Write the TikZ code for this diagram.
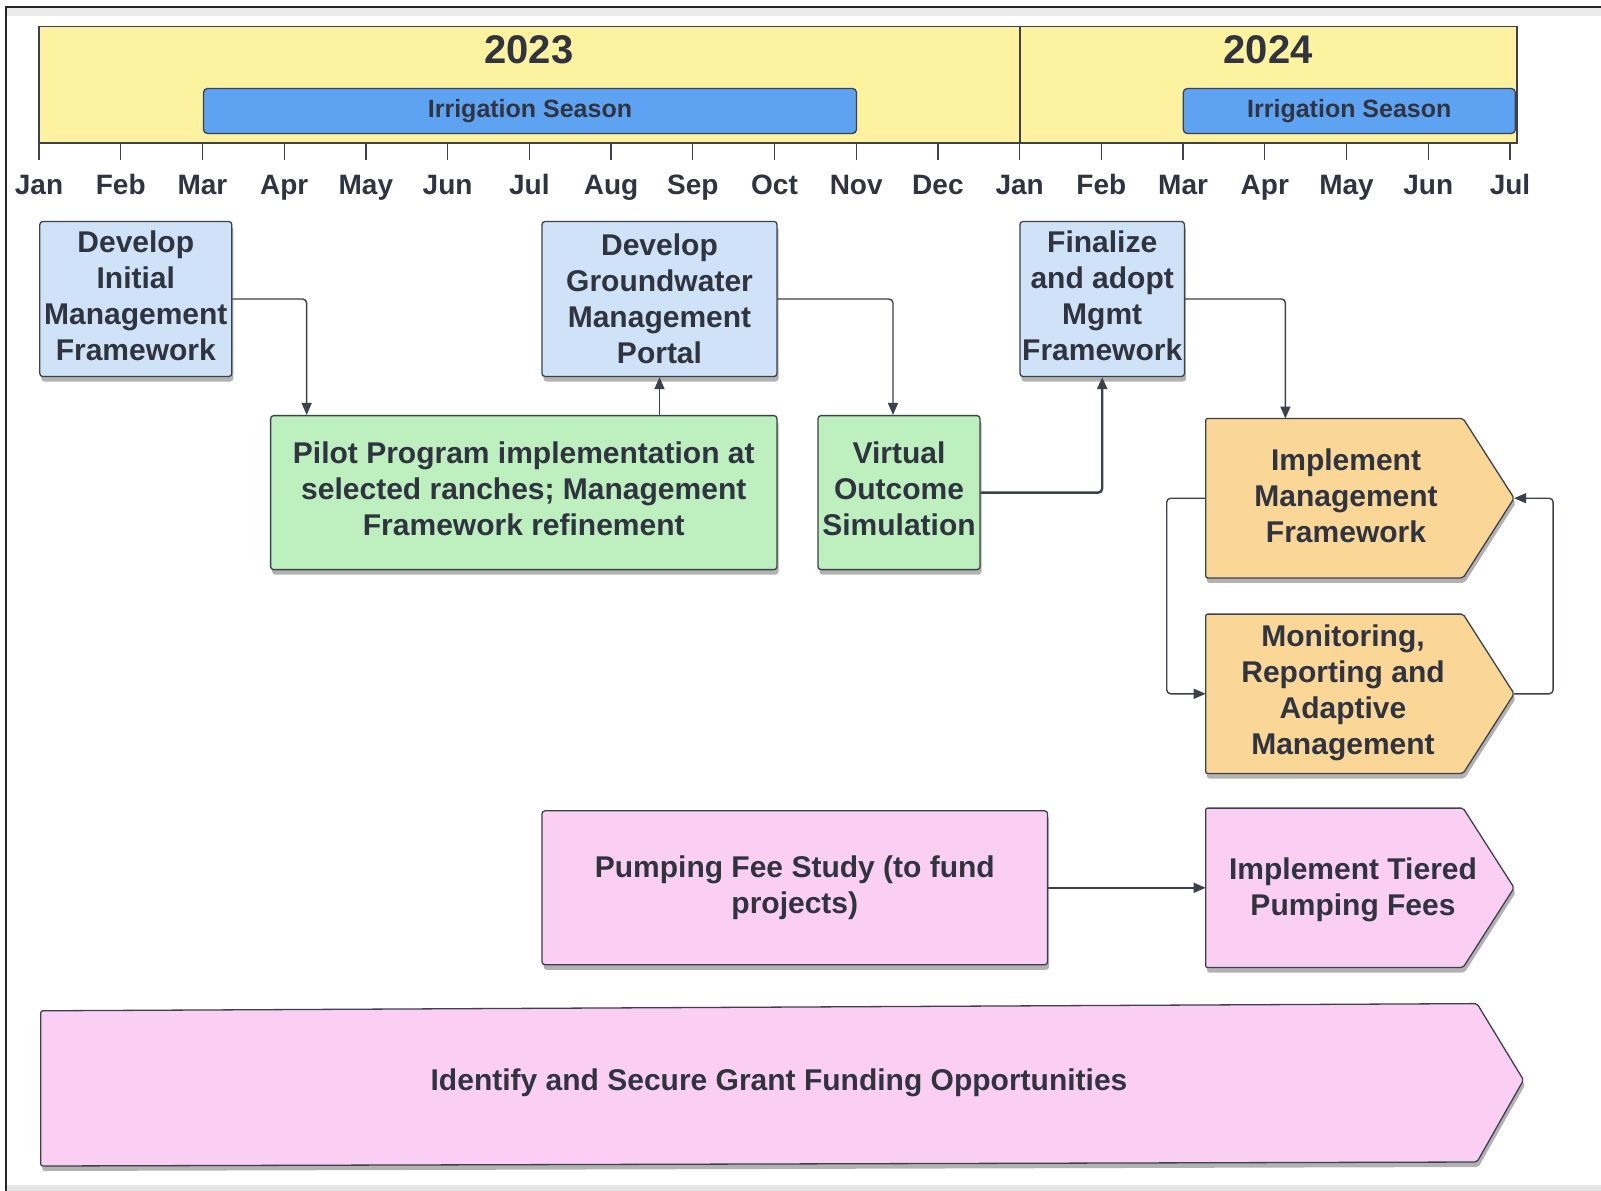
\documentclass[tikz,border=0pt]{standalone}
\usepackage{fontspec}
\setmainfont{Liberation Sans}
\usetikzlibrary{shadows,arrows.meta,calc}
\definecolor{txt}{HTML}{2F3440}
\definecolor{linec}{HTML}{3C414B}
\definecolor{bandY}{HTML}{FCF2A0}
\definecolor{barB}{HTML}{5EA3F2}
\definecolor{boxB}{HTML}{CFE2F8}
\definecolor{boxG}{HTML}{BDF0BE}
\definecolor{boxO}{HTML}{FAD796}
\definecolor{boxP}{HTML}{FBCFF3}
\newcommand\liftlines[1]{\raisebox{4pt}{\begin{tabular}{@{}c@{}}#1\end{tabular}}}
\tikzset{
  shad/.style={drop shadow={shadow xshift=1.5pt,shadow yshift=-5pt,fill=black,opacity=0.3}},
  tbox/.style={draw=linec,line width=1.3pt,rounded corners=3pt,align=center,text=txt,
    font=\fontsize{30}{36}\selectfont\bfseries,inner sep=0pt,shad},
  bluebox/.style={tbox,fill=boxB,minimum height=155pt},
  greenbox/.style={tbox,fill=boxG,minimum height=154pt},
  pinkbox/.style={tbox,fill=boxP,minimum height=154pt},
  arrowshape/.style={draw=linec,line width=1.3pt,rounded corners=2pt,shad},
  body/.style={inner sep=0pt,minimum width=257pt,minimum height=159pt},
  ttext/.style={align=center,text=txt,font=\fontsize{30}{36}\selectfont\bfseries,inner sep=0pt},
  conn/.style={draw=linec,line width=1.4pt,rounded corners=4pt,-{Triangle[length=12pt,width=10pt]}},
  tick/.style={draw=linec,line width=1.3pt},
  month/.style={text=txt,font=\fontsize{28}{32}\selectfont\bfseries,inner sep=0pt,anchor=base},
  year/.style={text=txt,font=\fontsize{40}{44}\selectfont\bfseries,inner sep=0pt},
  bar/.style={draw=linec,line width=1.3pt,fill=barB,rounded corners=4pt,minimum height=45pt,
    text=txt,font=\fontsize{25}{28}\selectfont\bfseries,inner sep=0pt},
}
\begin{document}
\begin{tikzpicture}[x=1pt,y=-1pt]
\useasboundingbox (0,0) rectangle (1601,1191);
% frame
\fill[black!8] (6,8) rectangle (1601,16);
\fill[black!10] (6,1185) rectangle (1601,1191);
\draw[draw=black!85,line width=1.5pt] (6,1191) -- (6,7) -- (1601,7);

% timeline band
\draw[draw=linec,line width=1.3pt,fill=bandY] (39,26.5) rectangle (1517,143);
\draw[tick] (1020,26.5) -- (1020,143);
\node[year] (y2023) at (529,50) {2023};
\node[year] (y2024) at (1268,50) {2024};
\node[bar,minimum width=653pt] (irr1) at (530,111) {Irrigation Season};
\node[bar,minimum width=332pt] (irr2) at (1349.3,111) {Irrigation Season};
\foreach \m [count=\i from 0] in {Jan,Feb,Mar,Apr,May,Jun,Jul,Aug,Sep,Oct,Nov,Dec,Jan,Feb,Mar,Apr,May,Jun,Jul} {
  \draw[tick] (39+81.72*\i,143) -- (39+81.72*\i,160);
  \node[month] (m\i) at (39+81.72*\i,194) {\m};
}

% blue boxes
\node[bluebox,minimum width=192pt] (dim) at (135.8,299) {\liftlines{Develop\\Initial\\Management\\Framework}};
\node[bluebox,minimum width=235pt] (portal) at (659.5,299) {Develop\\Groundwater\\Management\\Portal};
\node[bluebox,minimum width=164.5pt] (fin) at (1102.2,299) {\liftlines{Finalize\\and adopt\\Mgmt\\Framework}};

% green boxes
\node[greenbox,minimum width=506.4pt] (pilot) at (523.8,492.6) {\liftlines{Pilot Program implementation at\\selected ranches; Management\\Framework refinement}};
\node[greenbox,minimum width=162pt] (virt) at (899,492.6) {\liftlines{Virtual\\Outcome\\Simulation}};

% pink box
\node[pinkbox,minimum width=505.5pt] (pump) at (794.8,887.8) {Pumping Fee Study (to fund\\projects)};

% arrow shapes
\node[body] (impl) at (1334.4,498.2) {};
\coordinate (impltip) at ($(impl.east)+(51,0)$);
\path[arrowshape,fill=boxO] (impl.north west) -- (impl.north east) -- (impltip) -- (impl.south east) -- (impl.south west) -- cycle;
\node[ttext] (implt) at (1346,496) {Implement\\Management\\Framework};

\node[body] (mon) at (1334.4,693.8) {};
\coordinate (montip) at ($(mon.east)+(51,0)$);
\path[arrowshape,fill=boxO] (mon.north west) -- (mon.north east) -- (montip) -- (mon.south east) -- (mon.south west) -- cycle;
\node[ttext] (mont) at (1343,692.5) {Monitoring,\\Reporting and\\Adaptive\\Management};

\node[body] (tier) at (1334.4,887.8) {};
\coordinate (tiertip) at ($(tier.east)+(51,0)$);
\path[arrowshape,fill=boxP] (tier.north west) -- (tier.north east) -- (tiertip) -- (tier.south east) -- (tier.south west) -- cycle;
\node[ttext] (tiert) at (1353,890) {Implement Tiered\\Pumping Fees};

% grant funding arrow
\path[arrowshape,fill=boxP] (40.8,1010.8) -- (1477,1003.6) -- (1523.5,1080) -- (1477,1162) -- (40.8,1166) -- cycle;
\node[ttext] (grant) at (779,1083) {Identify and Secure Grant Funding Opportunities};

% connectors
\draw[conn] (dim.east) -| ($(pilot.north west)+(36.7,0)$);
\draw[conn] (pilot.north -| portal.south) -- (portal.south);
\draw[conn] (portal.east) -| ([xshift=-6pt]virt.north);
\draw[conn,line width=2.4pt] (virt.east) -| (fin.south);
\draw[conn] (fin.east) -| ($(impl.north west)+(79.7,0)$);
\draw[conn] (impl.west) -- ++(-39,0) |- (mon.west);
\draw[conn] (montip) -- ++(39,0) |- (impltip);
\draw[conn] (pump.east) -- (tier.west);
\end{tikzpicture}
\end{document}
